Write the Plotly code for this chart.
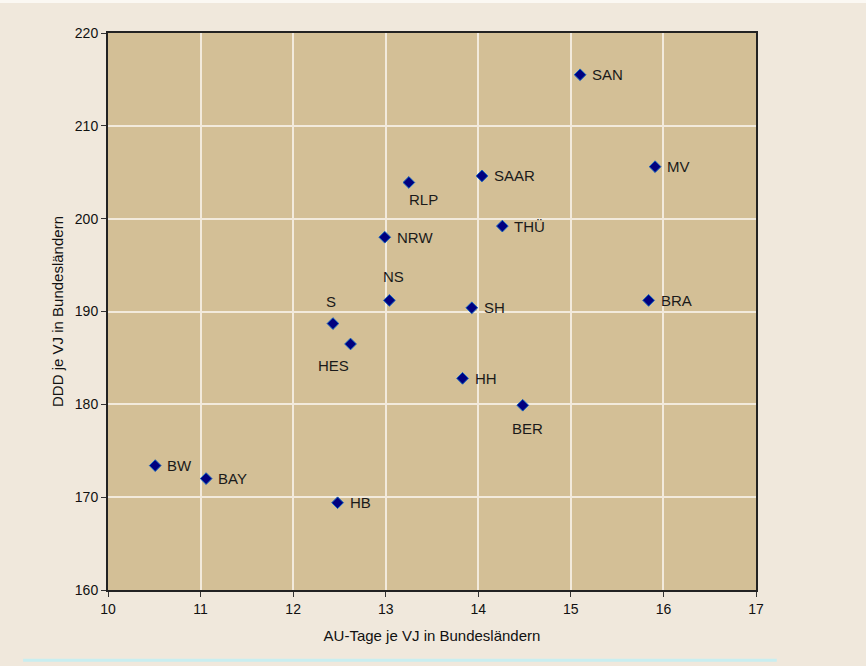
import plotly.graph_objects as go

labels = ["SAN", "MV", "SAAR", "RLP", "THÜ", "NRW", "NS", "SH", "BRA", "S",
          "HES", "HH", "BER", "BW", "BAY", "HB"]
au_tage = [15.10, 15.91, 14.04, 13.25, 14.26, 12.99, 13.04, 13.93, 15.84, 12.43,
           12.62, 13.83, 14.48, 10.51, 11.06, 12.48]
ddd = [215.5, 205.6, 204.6, 203.9, 199.2, 198.0, 191.2, 190.4, 191.2, 188.7,
       186.5, 182.8, 179.9, 173.4, 172.0, 169.4]

x_ticks = [10, 11, 12, 13, 14, 15, 16, 17]
y_ticks = [160, 170, 180, 190, 200, 210, 220]

FONT = "Liberation Sans, Arial, sans-serif"

# label placement (pixel offsets from marker): style only
label_offsets = {
    "RLP": ("center", 15, -17),
    "NS": ("center", 4, 24),
    "S": ("center", -2, 22),
    "HES": ("center", -17, -22),
    "BER": ("center", 5, -23),
}

fig = go.Figure()
fig.add_trace(go.Scatter(
    x=au_tage, y=ddd, mode="markers",
    marker=dict(symbol="diamond", size=9, color="#000080",
                line=dict(color="#1060c0", width=1)),
    cliponaxis=False, showlegend=False, hoverinfo="skip",
))

annotations = []
for lab, xv, yv in zip(labels, au_tage, ddd):
    anchor, dx, dy = label_offsets.get(lab, ("left", 10, 0))
    annotations.append(dict(
        x=xv, y=yv, xref="x", yref="y", text=lab, showarrow=False,
        xanchor=anchor, yanchor="middle", xshift=dx, yshift=dy,
        font=dict(family=FONT, size=15, color="#1a1a1a"),
    ))

axis_common = dict(
    showgrid=True, gridcolor="#F2EADC", gridwidth=2,
    showline=True, linecolor="#222222", linewidth=2, mirror=True,
    ticks="outside", ticklen=5, tickcolor="#333333",
    tickfont=dict(family=FONT, size=14, color="#111111"),
    zeroline=False,
)

fig.update_layout(
    width=866, height=666,
    paper_bgcolor="#F0E8DC", plot_bgcolor="#D3BF96",
    margin=dict(l=108, r=110, t=33, b=76),
    xaxis=dict(range=[10, 17], tickvals=x_ticks, **axis_common,
               title=dict(text="AU-Tage je VJ in Bundesländern", standoff=15,
                          font=dict(family=FONT, size=15, color="#111111"))),
    yaxis=dict(range=[160, 220], tickvals=y_ticks, **axis_common,
               title=dict(text="DDD je VJ in Bundesländern", standoff=8,
                          font=dict(family=FONT, size=15, color="#111111"))),
    annotations=annotations,
    shapes=[
        dict(type="line", xref="paper", yref="paper",
             x0=-0.131, x1=1.032, y0=-0.126, y1=-0.126,
             line=dict(color="#C8EEF0", width=3), layer="above"),
        dict(type="rect", xref="paper", yref="paper",
             x0=-0.2, x1=1.2, y0=1 + 30 / 557, y1=1 + 34 / 557,
             line=dict(width=0), fillcolor="#FBF8F3", layer="above"),
    ],
)

fig.write_html("out.html", config={"displayModeBar": False},
               post_script="document.body.style.margin='0';")
